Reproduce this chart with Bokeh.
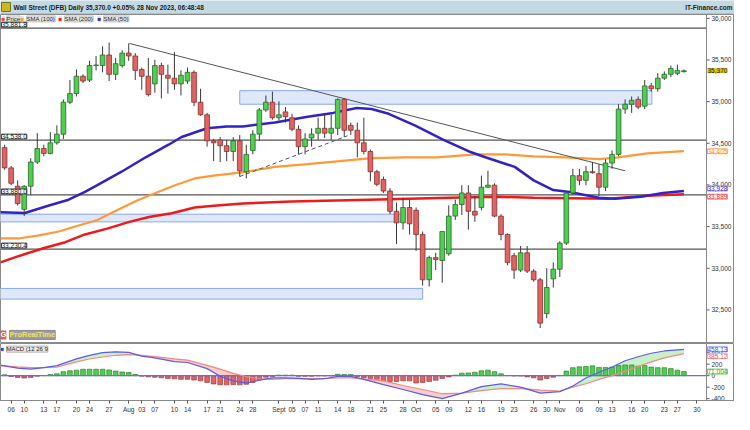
import numpy as np
from bokeh.plotting import figure
from bokeh.layouts import column
from bokeh.models import ColumnDataSource, Label, FixedTicker, Span, Range1d
from bokeh.core.properties import value
from bokeh.embed import file_html
from bokeh.resources import INLINE

FONT = "Liberation Sans"

# ---------------- data ----------------
days = list(range(-1, 104))  # trading-day index, 0 = 06 Jul 2023
opens = [34448, 34205, 33985, 33707, 33985, 34275, 34437, 34379, 34506, 34610, 34993, 35097, 35305, 35259, 35433,
         35433, 35560, 35328, 35433, 35583, 35548, 35386, 35305, 35213, 35433, 35317, 35282, 35213, 35247, 35352,
         34993, 34842, 34529, 34541, 34471, 34402, 34529, 34159, 34414, 34610, 34900, 34993, 34807, 34877, 34807,
         34668, 34460, 34564, 34622, 34680, 34622, 34680, 35027, 34715, 34657, 34506, 34402, 34159, 34066, 33927,
         33684, 33545, 33730, 33696, 33406, 32862, 33128, 33093, 33174, 33626, 33765, 33904, 33684, 33730, 33973,
         33997, 33626, 33406, 33151, 32978, 33186, 32966, 32862, 32457, 32873, 32989, 33302, 33904, 34112, 34055,
         34159, 34136, 33973, 34263, 34367, 34911, 34969, 35027, 34946, 35189, 35155, 35282, 35328, 35340, 35360]
highs = [34483, 34228, 34055, 33997, 34321, 34622, 34483, 34634, 34715, 35027, 35259, 35386, 35328, 35490, 35548,
         35664, 35710, 35525, 35618, 35699, 35583, 35409, 35525, 35502, 35467, 35444, 35595, 35375, 35409, 35375,
         35155, 34865, 34552, 34575, 34541, 34575, 34599, 34483, 34657, 34923, 35074, 35120, 35004, 34935, 34854,
         34715, 34622, 34680, 34807, 34842, 34842, 35039, 35039, 34749, 34749, 34807, 34425, 34182, 34101, 33962,
         33788, 33846, 33823, 33730, 33441, 33151, 33186, 33441, 33754, 33823, 33997, 33997, 33869, 34112, 34170,
         34020, 33649, 33418, 33186, 33267, 33267, 32989, 32885, 33001, 33070, 33325, 33904, 34194, 34194, 34228,
         34275, 34251, 34309, 34414, 34969, 35027, 35062, 35062, 35259, 35224, 35340, 35363, 35433, 35444, 35386]
lows = [34182, 33997, 33754, 33626, 33881, 34251, 34344, 34367, 34483, 34552, 34969, 35062, 35224, 35236, 35375,
        35352, 35247, 35259, 35409, 35490, 35259, 35143, 35062, 35108, 35039, 35097, 35143, 35074, 35213, 34946,
        34830, 34460, 34286, 34275, 34286, 34286, 34101, 34078, 34367, 34529, 34877, 34784, 34772, 34749, 34645,
        34367, 34367, 34460, 34541, 34564, 34541, 34599, 34576, 34599, 34332, 34367, 34043, 33985, 33904, 33650,
        33290, 33464, 33406, 33209, 32792, 32781, 32978, 32827, 33151, 33580, 33638, 33464, 33557, 33696, 33962,
        33615, 33337, 33036, 32873, 32955, 32943, 32839, 32283, 32399, 32769, 32896, 33279, 33881, 33997, 33997,
        34136, 33869, 33927, 34194, 34344, 34854, 34865, 34911, 34911, 35120, 35120, 35259, 35294, 35317, 35350]
closes = [34205, 34020, 33777, 33985, 34275, 34437, 34379, 34506, 34610, 34993, 35097, 35305, 35247, 35433, 35440,
          35560, 35328, 35456, 35583, 35548, 35375, 35305, 35085, 35433, 35328, 35282, 35213, 35317, 35352, 34993,
          34842, 34529, 34506, 34471, 34402, 34529, 34170, 34367, 34610, 34900, 34993, 34807, 34842, 34819, 34668,
          34460, 34552, 34610, 34680, 34622, 34680, 35027, 34657, 34657, 34506, 34402, 34159, 34008, 33927, 33684,
          33545, 33730, 33534, 33406, 32862, 33128, 33105, 33441, 33626, 33765, 33904, 33684, 33638, 33973, 33997,
          33626, 33406, 33070, 32978, 33186, 32966, 32862, 32341, 32769, 32989, 33302, 33904, 34112, 34055, 34159,
          34147, 33973, 34263, 34367, 34911, 34969, 35016, 34935, 35189, 35155, 35282, 35328, 35398, 35375, 35370]

sma50_x = [-1.63, 2.1, 5.8, 8.8, 11.3, 13.2, 16.9, 20.6, 24.1, 26.1, 30.0, 33.0, 35.5, 40.4, 45.4, 49.3, 52.9,
           55.2, 57.8, 61.8, 66.2, 70.1, 72.6, 77.1, 80.0, 83.0, 85.5, 90.0, 92.4, 96.4, 99.8, 103.0]
sma50 = [33672, 33664, 33754, 33823, 33916, 33997, 34159, 34332, 34483, 34576, 34680, 34703, 34703, 34749, 34819,
         34865, 34923, 34911, 34854, 34715, 34541, 34402, 34332, 34217, 34055, 33939, 33916, 33846, 33835, 33858,
         33904, 33928]
sma100_x = [-1.63, 1.34, 4.3, 7.3, 10.2, 13.2, 16.2, 19.2, 22.1, 25.1, 28.1, 31.0, 35.0, 40.4, 45.4, 50.3, 55.2,
            60.3, 65.2, 71.1, 75.6, 80.0, 84.9, 90.0, 92.9, 97.4, 103.0]
sma100 = [33360, 33360, 33395, 33441, 33510, 33580, 33696, 33811, 33904, 33997, 34078, 34112, 34147, 34217, 34251,
          34286, 34321, 34332, 34332, 34367, 34367, 34344, 34332, 34309, 34332, 34379, 34405]
sma200_x = [-1.63, 1.34, 5.05, 8.3, 11.3, 14.7, 18.1, 21.1, 24.6, 28.1, 31.5, 35.5, 42.9, 54.8, 67.1, 74.5, 80.0,
            91.5, 97.4, 103.0]
sma200 = [33070, 33151, 33244, 33313, 33406, 33476, 33557, 33615, 33661, 33730, 33754, 33777, 33800, 33823, 33846,
          33858, 33846, 33835, 33869, 33889]

levels = [35881.8, 34538.0, 33880.0, 33230.4]
level_texts = ["35,881.8", "34,538.0", "33,880.0", "33,230.4"]

zone_left = [35.0, -3.0, -3.0]
zone_right = [98.1, 60.0, 63.0]
zone_top = [35132, 33649, 32758]
zone_bottom = [34969, 33557, 32630]

trend_x = [18.1, 94.0]
trend_y = [35699, 34170]
dash_x = [35.0, 51.5]
dash_y = [34101, 34590]

hist = [16, -15, -30, -40, -30, -8, 3, 21, 32, 70, 85, 96, 112, 112, 112, 112, 100, 80, 65, 55, 20, -8, -20, -27,
        -37, -48, -53, -64, -64, -75, -90, -117, -144, -160, -160, -155, -160, -150, -117, -75, -27, -16, 10, 10,
        10, -10, -10, -10, -3, -3, -3, 25, 20, 20, -15, -37, -48, -64, -90, -100, -100, -90, -90, -128, -117, -100,
        -80, -48, -21, 10, 43, 48, 59, 85, 96, 70, 32, 3, -5, -5, -21, -37, -75, -48, -27, 5, 80, 139, 155, 160,
        171, 144, 144, 149, 176, 187, 187, 165, 176, 149, 139, 139, 123, 96, 71.004]
macd_x = [-2, 1, 3, 5, 7, 10, 12, 14, 16, 18, 20, 22, 25, 27, 30, 32, 34, 36, 38, 40, 42, 44, 46, 48, 50, 52, 54,
          57, 60, 63, 66, 69, 72, 75, 78, 81, 84, 86, 88, 90, 92, 94, 96, 98, 100, 103]
macd_line = [190, 130, 115, 139, 176, 293, 352, 400, 415, 405, 340, 309, 245, 229, 123, -11, -91, -130, -80, -37,
             -37, -48, -64, -53, -11, -11, -64, -155, -240, -330, -400, -304, -190, -144, -200, -304, -277, -180,
             -40, 60, 150, 260, 330, 390, 430, 458.13]
signal_line = [178, 152, 140, 139, 149, 240, 290, 325, 355, 365, 355, 330, 293, 272, 180, 115, 40, -15, -55, -64,
               -53, -48, -50, -48, -40, -37, -55, -90, -171, -240, -314, -304, -261, -224, -224, -251, -267, -200,
               -140, -64, 0, 80, 160, 240, 310, 385.12]

tick_days = [0, 2, 5, 7, 10, 12, 15, 18, 20, 22, 25, 27, 30, 32, 35, 37, 41, 43, 45, 47, 50, 52, 55, 57, 60, 62,
             65, 67, 70, 72, 75, 77, 80, 82, 84, 87, 90, 92, 95, 97, 100, 102, 105]
tick_labels = ["06", "10", "13", "17", "20", "24", "27", "Aug", "03", "07", "10", "14", "17", "21", "24", "28",
               "Sept", "05", "07", "11", "14", "18", "21", "25", "28", "Oct", "05", "09", "12", "16", "19", "23",
               "26", "30", "Nov", "06", "09", "13", "16", "20", "23", "27", "30"]
price_ticks = [32500, 33000, 33500, 34000, 34500, 35000, 35500, 36000]
price_tick_labels = ["32,500", "33,000", "33,500", "34,000", "34,500", "35,000", "35,500", "36,000"]
macd_ticks = [-400, -200, 0, 200, 400]
macd_tick_labels = ["-400", "-200", "0", "200", "400"]

# ---------------- geometry / styling ----------------
W = 734            # total width
RB = 28            # px reserved for the price scale at the right
X0, AX = -1.63, 106.46          # visible day range of the chart area; AX = price-scale line
PPU = (W - RB) / (AX - X0)      # px per day
XEND = AX + RB / PPU
TICK = 3 / PPU
LABX = AX + 5 / PPU
MARKX = AX + 1 / PPU

GREEN, GREEN_EDGE = "#4fcf4f", "#2b6a2b"
RED, RED_EDGE = "#e06464", "#8a2e2e"
FS = "6.5px"
AXC = "#8a8a8a"

def lab(fig, **kw):
    base = dict(text_font=FONT, text_font_size=FS, text_color="#222222")
    base.update(kw)
    fig.add_layout(Label(**base))

def price_scale(fig, ticks, texts):
    fig.add_layout(Span(location=AX, dimension="height", line_color=AXC, line_width=1))
    fig.segment(x0=[AX] * len(ticks), x1=[AX + TICK] * len(ticks), y0=ticks, y1=ticks,
                line_color="#555555", line_width=1)
    fig.text(x=[LABX] * len(ticks), y=ticks, text=texts, text_font=value(FONT), text_font_size=FS,
             text_color="#333333", text_baseline="middle", text_align="left")

# ---------------- header ----------------
header = figure(width=W, height=14, x_range=Range1d(0, W), y_range=Range1d(0, 14),
                x_axis_location=None, y_axis_location=None, toolbar_location=None,
                output_backend="svg", min_border=0, background_fill_color="#c3d9e3",
                border_fill_color="#c3d9e3", outline_line_color=None)
header.grid.visible = False
header.quad(left=[1], right=[10], bottom=[3], top=[12], fill_color="#cdb526", line_color="#6b7a20")
header.add_layout(Span(location=0.5, dimension="width", line_color="#8fb0c0", line_width=1))
lab(header, x=13, y=7.5, text="Wall Street (DFB) Daily 35,370.0 +0.05% 28 Nov 2023, 06:48:48",
    text_font_style="bold", text_baseline="middle", text_color="#1a1a1a")
lab(header, x=W - 2, y=7.5, text="IT-Finance.com", text_font_style="bold", text_baseline="middle",
    text_align="right", text_color="#1a1a1a")

# ---------------- main chart ----------------
xr = Range1d(X0, XEND)
Y0, Y1 = 32097, 36046
main = figure(width=W, height=329, x_range=xr, y_range=Range1d(Y0, Y1),
              x_axis_location=None, y_axis_location=None, toolbar_location=None,
              output_backend="svg", min_border=0, outline_line_color=AXC,
              background_fill_color="white")
main.grid.visible = False

main.quad(left=zone_left, right=zone_right, top=zone_top, bottom=zone_bottom,
          fill_color="#dfe8fb", line_color="#86a9ef", line_width=1)
main.segment(x0=[X0] * len(levels), x1=[AX] * len(levels), y0=levels, y1=levels,
             line_color="#555555", line_width=1.3)

main.line(sma100_x, sma100, line_color="#ff9a3a", line_width=2.2)
main.line(sma200_x, sma200, line_color="#ee1a1a", line_width=2.5)
main.line(sma50_x, sma50, line_color="#3422c4", line_width=2.5)
main.line(trend_x, trend_y, line_color="#555555", line_width=1)
main.line(dash_x, dash_y, line_color="#555555", line_width=1, line_dash="4 3")

inc = [c >= o for o, c in zip(opens, closes)]
src = ColumnDataSource(dict(
    x=days, h=highs, l=lows,
    top=[max(o, c) for o, c in zip(opens, closes)],
    bottom=[min(o, c) for o, c in zip(opens, closes)],
    fill=[GREEN if u else RED for u in inc],
    edge=[GREEN_EDGE if u else RED_EDGE for u in inc]))
main.segment(x0="x", y0="l", x1="x", y1="h", source=src, line_color="#3a3a3a", line_width=1)
main.vbar(x="x", width=0.72, top="top", bottom="bottom", fill_color="fill", line_color="edge",
          line_width=0.8, source=src)

price_scale(main, price_ticks, price_tick_labels)

# legend row
LY = 35993
legend_items = [(1, "#e04848", 6, "Price"), (20, "#ff9a3a", 26, "SMA (100)"),
                (58, "#ee1a1a", 64, "SMA (200)"), (97, "#3422c4", 103, "SMA (50)")]
for ix, col, tx, txt in legend_items:
    lab(main, x=ix, y=LY, x_units="screen", text="\u25a0", text_color=col, text_font_size="6px",
        text_baseline="middle", background_fill_color="#e6e6e6")
    lab(main, x=tx, y=LY, x_units="screen", text=txt, text_font_size="6px", text_baseline="middle",
        background_fill_color="#e6e6e6", border_line_color="#c4c4c4")

for lv, t in zip(levels, level_texts):
    lab(main, x=1, y=lv, x_units="screen", text=t, text_font_size="6.5px", text_baseline="bottom",
        y_offset=1, background_fill_color="white", border_line_color="#444444", text_color="#111111")

# ProRealTime logo
lab(main, x=0, y=32200, x_units="screen", text="G", text_font_size="7.5px", text_font_style="bold",
    text_color="white", text_baseline="middle", background_fill_color="#e05a5a")
lab(main, x=9, y=32200, x_units="screen", text="ProRealTime", text_font_size="7.5px",
    text_font_style="bold", text_color="#f0e070", text_baseline="middle",
    background_fill_color="#9c9c9c", border_line_color="#8a8a8a")

# price-scale markers
lab(main, x=MARKX, y=closes[-1], text="35,370", text_baseline="middle",
    background_fill_color="#e2bd12", text_color="#222222")
lab(main, x=MARKX, y=sma100[-1], text="34,405", text_baseline="middle",
    background_fill_color="white", border_line_color="#f3b070", text_color="#ff8a20")
lab(main, x=MARKX, y=sma50[-1], text="33,928", text_baseline="bottom",
    background_fill_color="white", border_line_color="#9a90e0", text_color="#3422c4")
lab(main, x=MARKX, y=sma200[-1], text="33,889", text_baseline="top",
    background_fill_color="white", border_line_color="#f09090", text_color="#ee1a1a")

# ---------------- MACD panel ----------------
M0, M1 = -432, 560
macd = figure(width=W, height=72, x_range=xr, y_range=Range1d(M0, M1),
              x_axis_location="below", y_axis_location=None, toolbar_location=None,
              output_backend="svg", min_border=0, outline_line_color=AXC)
macd.grid.visible = False
mx = macd.xaxis[0]
mx.major_label_text_font = FONT
mx.major_label_text_font_size = FS
mx.major_label_text_color = "#333333"
mx.axis_line_color = AXC
mx.major_tick_out = 3
mx.major_tick_in = 0
mx.minor_tick_out = 0
mx.major_tick_line_color = "#555555"
mx.major_label_standoff = 2
mx.ticker = FixedTicker(ticks=tick_days)
mx.major_label_overrides = {d: t for d, t in zip(tick_days, tick_labels)}

m_arr = np.array(macd_line)
s_arr = np.array(signal_line)
upper = np.maximum(m_arr, s_arr)
macd.varea(x=macd_x, y1=s_arr, y2=upper, fill_color="#c8f1c8")
macd.varea(x=macd_x, y1=m_arr, y2=upper, fill_color="#f7cdcd")
hsrc = ColumnDataSource(dict(x=days, top=hist,
                             fill=[GREEN if v >= 0 else RED for v in hist],
                             edge=[GREEN_EDGE if v >= 0 else RED_EDGE for v in hist]))
macd.vbar(x="x", width=0.72, top="top", bottom=0, fill_color="fill", line_color="edge",
          line_width=0.6, source=hsrc)
macd.segment(x0=[X0], x1=[AX], y0=[0], y1=[0], line_color="#6a6aee", line_width=1.2)
macd.line(macd_x, signal_line, line_color="#f08a80", line_width=1.2)
macd.line(macd_x, macd_line, line_color="#5b5bef", line_width=1.2)

price_scale(macd, macd_ticks, macd_tick_labels)

lab(macd, x=0, y=462, x_units="screen", text="\u25a0", text_color="#3a3ad8", text_font_size="6px",
    text_baseline="middle", background_fill_color="#ececec")
lab(macd, x=6, y=462, x_units="screen", text="MACD (12 26 9", text_font_size="6px", text_baseline="middle",
    background_fill_color="#ececec", border_line_color="#b0b0b0")
lab(macd, x=MARKX, y=macd_line[-1], text="458.13", text_baseline="middle",
    background_fill_color="white", border_line_color="#9090f0", text_color="#4a4ae8")
lab(macd, x=MARKX, y=signal_line[-1], text="385.12", text_baseline="top",
    background_fill_color="white", border_line_color="#f2b0b0", text_color="#e86060")
lab(macd, x=MARKX, y=hist[-1], text="71.004", text_baseline="middle",
    background_fill_color="white", border_line_color="#70d070", text_color="#2e9e2e")

layout = column(header, main, macd)
open("out.html", "w").write(file_html(layout, INLINE))
